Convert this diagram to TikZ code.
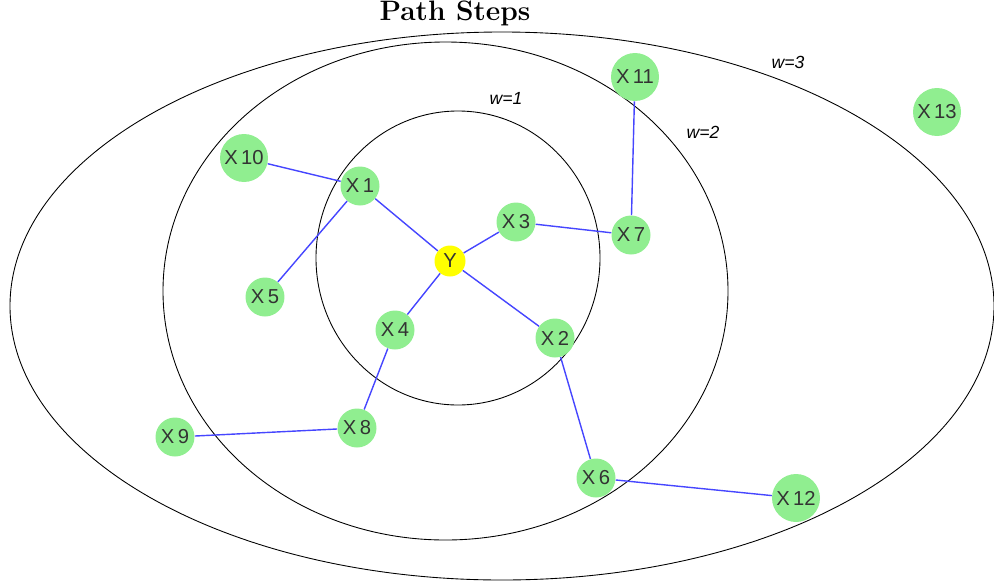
\documentclass[tikz,border=0pt]{standalone}
\usepackage{fontspec}
\setsansfont{Liberation Sans}
\definecolor{stepgreen}{HTML}{90EE90}
\definecolor{stepyellow}{HTML}{FFFF00}
\definecolor{stepblue}{HTML}{4646FF}
\definecolor{steptext}{HTML}{333333}

\begin{document}
\begin{tikzpicture}[
  x=0.02cm,
  y=-0.02cm,
  ring/.style={black, line width=0.5pt},
  link/.style={stepblue, line width=0.8pt},
  var/.style={circle, fill=stepgreen, inner sep=0pt, minimum size=0.78cm,
    font=\sffamily\fontsize{11.5}{13}\selectfont, text=steptext},
  bigvar/.style={var, minimum size=0.96cm},
  target/.style={var, fill=stepyellow, minimum size=0.62cm},
  wlabel/.style={font=\sffamily\itshape\fontsize{10}{12}\selectfont}
]
  % ---- page frame in pixel units ----
  \useasboundingbox (0,0) rectangle (994,582);

  % ---- rings of equal path length ----
  \begin{scope}
    \clip (0,0) rectangle (994,582);
    \draw[ring] (502,306) ellipse [x radius=492, y radius=274];
  \end{scope}
  \draw[ring] (445.5,291) ellipse [x radius=282.5, y radius=249];
  \draw[ring] (458,258) ellipse [x radius=142, y radius=147];

  \node[wlabel] (w1) at (506,98) {w=1};
  \node[wlabel] (w2) at (703,132) {w=2};
  \node[wlabel] (w3) at (788,62) {w=3};

  \node[font=\bfseries\fontsize{16}{19}\selectfont] (title) at (455,13) {Path Steps};

  % ---- nodes ----
  \node[target] (Y) at (450,261) {Y};
  \node[var] (x1) at (360,186) {X\,1};
  \node[var] (x2) at (555,338) {X\,2};
  \node[var] (x3) at (516,222) {X\,3};
  \node[var] (x4) at (395,330) {X\,4};
  \node[var] (x5) at (265,297) {X\,5};
  \node[var] (x6) at (596,478) {X\,6};
  \node[var] (x7) at (631,235) {X\,7};
  \node[var] (x8) at (357,428) {X\,8};
  \node[var] (x9) at (175,437) {X\,9};
  \node[bigvar] (x10) at (244,158) {X\,10};
  \node[bigvar] (x11) at (635,77) {X\,11};
  \node[bigvar] (x12) at (796,498) {X\,12};
  \node[bigvar] (x13) at (937,112) {X\,13};

  % ---- links ----
  \draw[link] (Y) -- (x1);
  \draw[link] (Y) -- (x2);
  \draw[link] (Y) -- (x3);
  \draw[link] (Y) -- (x4);
  \draw[link] (x1) -- (x10);
  \draw[link] (x1) -- (x5);
  \draw[link] (x3) -- (x7);
  \draw[link] (x7) -- (x11);
  \draw[link] (x2) -- (x6);
  \draw[link] (x6) -- (x12);
  \draw[link] (x4) -- (x8);
  \draw[link] (x8) -- (x9);
\end{tikzpicture}
\end{document}
